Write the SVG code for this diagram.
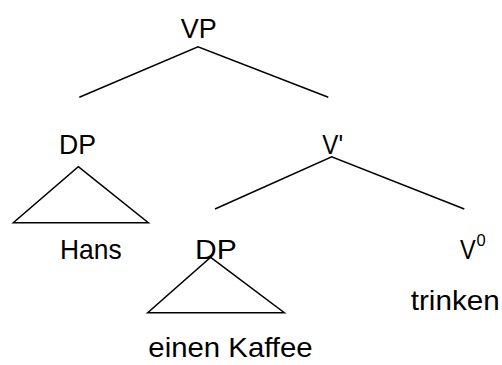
<svg xmlns="http://www.w3.org/2000/svg" width="502" height="365" viewBox="0 0 502 365">
<style>
text{font-family:"Liberation Sans",Arial,sans-serif;font-size:28px;fill:#000}
.sup{font-size:16.5px}
.e{stroke:#000;stroke-width:1.5;fill:none}
</style>
<rect width="502" height="365" fill="#fff"/>
<g id="edges">
<polyline class="e" points="79.3,97.3 198,46.7 328.3,97.3"/>
<polyline class="e" points="215,209 331.7,156.7 464.3,209"/>
<polygon class="e" points="78.3,166.7 148.3,222.7 13.3,222.7"/>
<polygon class="e" points="210.7,257.3 284.3,312.7 147.7,312.7"/>
</g>
<g id="vp"><text x="180.7" y="37.7" textLength="36" lengthAdjust="spacingAndGlyphs">VP</text></g>
<g id="dp1"><text x="59" y="154.3" textLength="37" lengthAdjust="spacingAndGlyphs">DP</text></g>
<g id="vbar"><text x="322.3" y="154.3" textLength="20.7" lengthAdjust="spacingAndGlyphs">V'</text></g>
<g id="hans"><text x="60" y="258.5" textLength="61.7" lengthAdjust="spacingAndGlyphs">Hans</text></g>
<g id="dp2"><text x="195" y="258.5" textLength="41.7" lengthAdjust="spacingAndGlyphs">DP</text></g>
<g id="v0"><text x="460" y="258.5" textLength="15.7" lengthAdjust="spacingAndGlyphs">V</text><text class="sup" x="476.5" y="246">0</text></g>
<g id="trinken"><text x="410.7" y="309.5" textLength="89" lengthAdjust="spacingAndGlyphs">trinken</text></g>
<g id="kaffee"><text x="148.3" y="356.7" textLength="164.4" lengthAdjust="spacingAndGlyphs">einen Kaffee</text></g>
</svg>
